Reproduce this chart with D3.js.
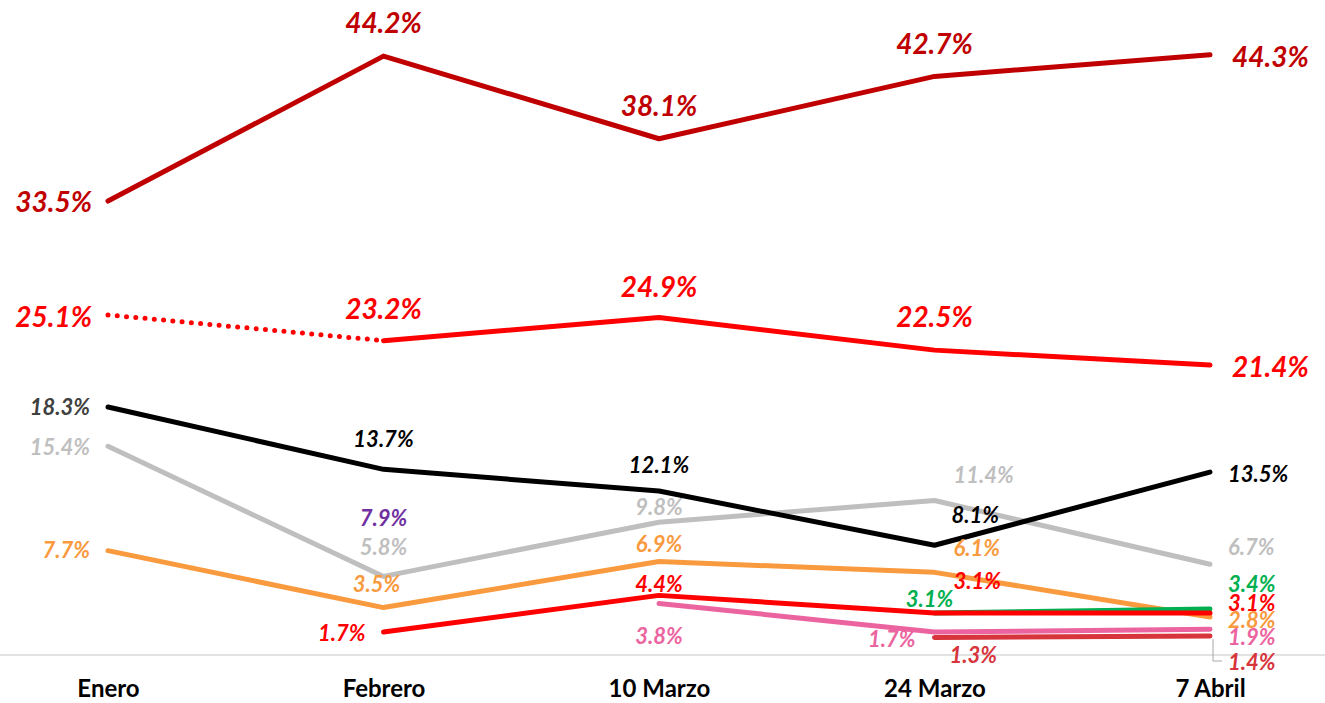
<!DOCTYPE html>
<html>
<head>
<meta charset="utf-8">
<script src="https://cdn.jsdelivr.net/npm/d3@7"></script>
<style>
  body { margin: 0; background: #fff; }
  svg { display: block; }
  .lbl { font-family: Lato, "Open Sans", sans-serif; font-weight: 700; font-style: italic; }
  .cat { font-family: Lato, "Open Sans", sans-serif; font-weight: 700; }
</style>
</head>
<body>
<div id="container"></div>
<script>
// categorias y series (porcentajes)
var categories = ["Enero", "Febrero", "10 Marzo", "24 Marzo", "7 Abril"];
var serieGuinda  = [33.5, 44.2, 38.1, 42.7, 44.3];
var serieRoja    = [25.1, 23.2, 24.9, 22.5, 21.4];
var serieNegra   = [18.3, 13.7, 12.1, 8.1, 13.5];
var serieGris    = [15.4, 5.8, 9.8, 11.4, 6.7];
var serieNaranja = [7.7, 3.5, 6.9, 6.1, 2.8];
var serieRoja2   = [null, 1.7, 4.4, 3.1, 3.1];
var serieRosa    = [null, null, 3.8, 1.7, 1.9];
var serieVerde   = [null, null, null, 3.1, 3.4];
var serieCarmin  = [null, null, null, 1.3, 1.4];
var serieMorada  = [null, 7.9, null, null, null];

var width = 1325, height = 703;

var svg = d3.select("div#container")
  .append("svg")
  .attr("width", width)
  .attr("height", height);

var x = d3.scalePoint().domain(categories).range([108, 1210]);
var y = d3.scaleLinear().domain([0, 45]).range([655, 655 - 45 * 13.55]);

// axis line + category labels
var xAxis = d3.axisBottom(x).tickSize(0).tickPadding(25);
var gx = svg.append("g").attr("transform", "translate(0," + y(0) + ")").call(xAxis);
gx.select(".domain").remove();
gx.selectAll("text").attr("class", "cat").style("font-size", "24px").style("fill", "#000");
svg.append("line")
  .attr("x1", 0).attr("x2", width)
  .attr("y1", y(0)).attr("y2", y(0))
  .style("stroke", "#d9d9d9").style("stroke-width", 1.5);

// [anchor, dx, dy] for each label
var series = [
  {vals: serieGris, color: "#bfbfbf", size: 22,
   pos: [["end",-18,9],["middle",0,-21],["middle",0,-7],["start",19,-18],["start",18,-9]]},
  {vals: serieNaranja, color: "#f99a3e", size: 22,
   pos: [["end",-18,7],["middle",-7,-16],["middle",0,-10],["start",19,-16],["start",18,11]]},
  {vals: serieCarmin, color: "#d7343c", size: 22,
   pos: [null,null,null,["start",15,26],["start",18,34]]},
  {vals: serieRosa, color: "#eb64a0", size: 22,
   pos: [null,null,["middle",0,40],["end",-19,15],["start",18,16]]},
  {vals: serieVerde, color: "#00b050", size: 22,
   pos: [null,null,null,["middle",-5,-6],["start",18,-17]]},
  {vals: serieRoja2, color: "#ff0000", size: 22,
   pos: [null,["end",-18,9],["middle",0,-3],["start",19,-24],["start",18,-2]]},
  {vals: serieNegra, color: "#000000", size: 22, firstColor: "#404040",
   pos: [["end",-18,8],["middle",0,-22],["middle",0,-18],["start",17,-22],["start",18,10]]},
  {vals: serieRoja, color: "#ff0000", size: 28, dottedFirst: true,
   pos: [["end",-16,12],["middle",0,-22],["middle",0,-21],["middle",0,-23],["start",22,12]]},
  {vals: serieGuinda, color: "#c00000", size: 28,
   pos: [["end",-16,11],["middle",0,-23],["middle",0,-23],["middle",0,-22],["start",22,12]]},
  {vals: serieMorada, color: "#7030a0", size: 22, noLine: true,
   pos: [null,["middle",0,-22],null,null,null]}
];

var line = d3.line()
  .defined(function(d) { return d.v !== null; })
  .x(function(d) { return x(d.c); })
  .y(function(d) { return y(d.v); });

var linesG = svg.append("g");
var labelsG = svg.append("g");

series.forEach(function(s) {
  var pts = s.vals.map(function(v, i) { return {c: categories[i], v: v, i: i}; });

  if (!s.noLine) {
    if (s.dottedFirst) {
      linesG.append("path")
        .attr("d", line(pts.slice(0, 2)))
        .style("fill", "none").style("stroke", s.color)
        .style("stroke-width", 5).style("stroke-linecap", "round")
        .style("stroke-dasharray", "0 9.3");
      pts = pts.map(function(d) { return d.i === 0 ? {c: d.c, v: null, i: 0} : d; });
    }
    linesG.append("path")
      .attr("d", line(pts))
      .style("fill", "none").style("stroke", s.color)
      .style("stroke-width", 5).style("stroke-linecap", "round")
      .style("stroke-linejoin", "round");
  }

  s.vals.forEach(function(v, i) {
    if (v === null || !s.pos[i]) return;
    var p = s.pos[i];
    labelsG.append("text")
      .attr("class", "lbl")
      .attr("x", x(categories[i]) + p[1])
      .attr("y", y(v) + p[2])
      .attr("text-anchor", p[0])
      .style("font-size", s.size + "px")
      .style("fill", (i === 0 && s.firstColor) ? s.firstColor : s.color)
      .text(v.toFixed(1) + "%");
  });
});

// leader line for the 1.4% label
var lx = x(categories[4]), ly = y(serieCarmin[4]);
svg.append("path")
  .attr("d", "M" + (lx + 3) + "," + (ly + 3) + "V" + (ly + 25) + "H" + (lx + 12))
  .style("fill", "none").style("stroke", "#a6a6a6").style("stroke-width", 1);
</script>
</body>
</html>
